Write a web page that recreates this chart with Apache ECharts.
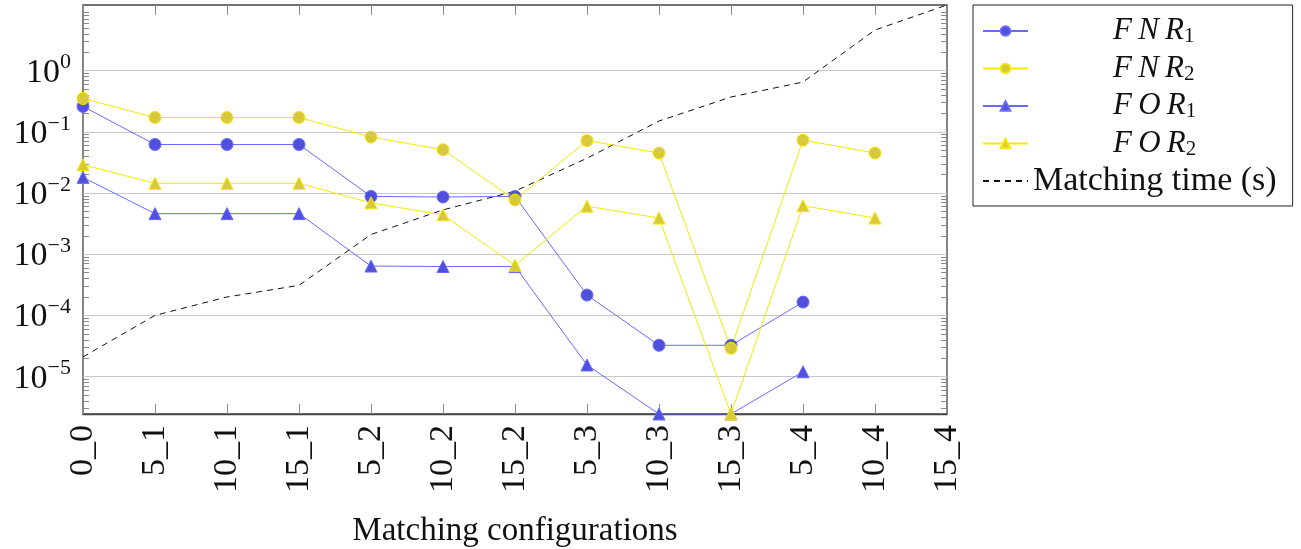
<!DOCTYPE html>
<html>
<head>
<meta charset="utf-8">
<script src="https://cdn.jsdelivr.net/npm/echarts@6/dist/echarts.min.js"></script>
<style>html,body{margin:0;padding:0;background:#fff;}#c{width:1301px;height:549px;}</style>
</head>
<body>
<div id="c"></div>
<script>
const categories = ['0_0','5_1','10_1','15_1','5_2','10_2','15_2','5_3','10_3','15_3','5_4','10_4','15_4'];
const fnr1 = [0.26, 0.062, 0.062, 0.062, 0.0088, 0.0086, 0.0088, 2.15e-4, 3.25e-5, 3.25e-5, 1.65e-4, null, null];
const fnr2 = [0.35, 0.171, 0.171, 0.171, 0.082, 0.051, 0.0077, 0.072, 0.045, 2.9e-5, 0.073, 0.045, null];
const for1 = [0.018, 0.0046, 0.0046, 0.0046, 6.4e-4, 6.3e-4, 6.3e-4, 1.55e-5, 2.45e-6, 2.45e-6, 1.2e-5, null, null];
const for2 = [0.029, 0.0144, 0.0144, 0.0144, 0.0069, 0.0044, 6.6e-4, 0.0061, 0.0039, 2.45e-6, 0.0062, 0.0039, null];
const matchTime = [2.1e-5, 1e-4, 2e-4, 3.1e-4, 2.1e-3, 5.3e-3, 1.07e-2, 3.7e-2, 0.15, 0.37, 0.65, 4.6, 11.8];
const majorTicks = [1e-5, 1e-4, 1e-3, 1e-2, 1e-1, 1e0];
const majorExp = ['\u22125', '\u22124', '\u22123', '\u22122', '\u22121', '0'];
const minorTicks = [3e-6,4e-6,5e-6,6e-6,7e-6,8e-6,9e-6,
  2e-5,3e-5,4e-5,5e-5,6e-5,7e-5,8e-5,9e-5,
  2e-4,3e-4,4e-4,5e-4,6e-4,7e-4,8e-4,9e-4,
  2e-3,3e-3,4e-3,5e-3,6e-3,7e-3,8e-3,9e-3,
  2e-2,3e-2,4e-2,5e-2,6e-2,7e-2,8e-2,9e-2,
  2e-1,3e-1,4e-1,5e-1,6e-1,7e-1,8e-1,9e-1,
  2,3,4,5,6,7,8,9];

const allVals = [].concat(fnr1, fnr2, for1, for2, matchTime).filter(v => v != null);
const yMin = Math.min.apply(null, allVals);
const yMax = Math.max.apply(null, allVals);

const SERIF = '"Liberation Serif", "DejaVu Serif", serif';
const BLUE_LINE = '#6a6aff', BLUE_FILL = '#5050dc';
const YEL_LINE = '#f6e800', YEL_FILL = '#d8c83c';

const chart = echarts.init(document.getElementById('c'), null, {renderer: 'canvas'});

function minorAxis(pos) {
  return {
    type: 'log', logBase: 10, min: yMin, max: yMax, position: pos,
    axisLine: {show: false}, axisLabel: {show: false}, splitLine: {show: false},
    axisTick: {show: true, inside: true, length: 6, customValues: minorTicks, lineStyle: {color: '#888', width: 1}}
  };
}

const legendLabels = {
  'FNR1': ['F\u2009N\u2009R', '1'], 'FNR2': ['F\u2009N\u2009R', '2'],
  'FOR1': ['F\u2009O\u2009R', '1'], 'FOR2': ['F\u2009O\u2009R', '2']
};

function lineSeries(name, data, lineColor, fillColor, symbol, size) {
  return {
    name: name, type: 'line', data: data, xAxisIndex: 0, yAxisIndex: 0,
    symbol: symbol, symbolSize: size, showSymbol: true,
    lineStyle: {color: lineColor, width: 1},
    itemStyle: {color: fillColor, borderColor: lineColor, borderWidth: 1},
    connectNulls: false, animation: false, z: 3
  };
}

const option = {
  animation: false,
  backgroundColor: '#fff',
  grid: {left: 83, right: 354, top: 5, bottom: 135, show: true, borderColor: '#444', borderWidth: 1.3,
         containLabel: false, outerBoundsMode: 'none'},
  xAxis: [{
    type: 'category', data: categories, boundaryGap: false, position: 'bottom',
    axisLine: {show: true, lineStyle: {color: '#444', width: 1.3}},
    axisTick: {show: true, inside: true, length: 10, lineStyle: {color: '#888'}},
    axisLabel: {rotate: 90, margin: 11, fontFamily: SERIF, fontSize: 34, color: '#111', interval: 0},
    splitLine: {show: false},
    name: 'Matching configurations', nameLocation: 'middle', nameGap: 101,
    nameTextStyle: {fontFamily: SERIF, fontSize: 33, color: '#111'}
  }, {
    type: 'category', data: categories, boundaryGap: false, position: 'top',
    axisLine: {show: false}, axisLabel: {show: false},
    axisTick: {show: true, inside: true, length: 10, lineStyle: {color: '#888'}}
  }],
  yAxis: [{
    type: 'log', logBase: 10, min: yMin, max: yMax, position: 'left',
    axisLine: {show: false},
    axisTick: {show: false, customValues: majorTicks},
    splitLine: {show: true, lineStyle: {color: '#c8c8c8', width: 1}},
    axisLabel: {
      customValues: majorTicks, margin: 12, color: '#111',
      formatter: function (v) {
        const i = majorTicks.findIndex(t => Math.abs(Math.log10(t) - Math.log10(v)) < 1e-6);
        return '{b|10}{e|' + (i >= 0 ? majorExp[i] : '') + '}';
      },
      rich: {
        b: {fontFamily: SERIF, fontSize: 34, color: '#111', verticalAlign: 'bottom', lineHeight: 38, padding: [4, 0, 0, 0]},
        e: {fontFamily: SERIF, fontSize: 22, color: '#111', verticalAlign: 'top', lineHeight: 38, padding: [0, 0, 14, 0]}
      }
    }
  }, minorAxis('left'), minorAxis('right')],
  legend: {
    show: true, orient: 'vertical', left: 973, top: 5,
    padding: [9, 16, 8, 9], itemGap: 4.5, itemWidth: 45, itemHeight: 12,
    borderColor: '#222', borderWidth: 1, backgroundColor: '#fff',
    data: ['FNR1', 'FNR2', 'FOR1', 'FOR2', {name: 'Matching time (s)', itemStyle: {opacity: 0}}],
    formatter: function (name) {
      if (legendLabels[name]) {
        const p = legendLabels[name];
        return '{pad|}{i|' + p[0] + '}{s|' + p[1] + '}';
      }
      return '{t|' + name + '}';
    },
    textStyle: {
      rich: {
        pad: {width: 80, height: 32},
        i: {fontFamily: SERIF, fontStyle: 'italic', fontSize: 31, color: '#111', lineHeight: 32},
        s: {fontFamily: SERIF, fontSize: 21, color: '#111', lineHeight: 32, verticalAlign: 'bottom', padding: [12, 0, 0, 0]},
        t: {fontFamily: SERIF, fontSize: 34, color: '#111', lineHeight: 32}
      }
    }
  },
  series: [
    lineSeries('FNR1', fnr1, BLUE_LINE, BLUE_FILL, 'circle', 12),
    lineSeries('FNR2', fnr2, YEL_LINE, YEL_FILL, 'circle', 12),
    lineSeries('FOR1', for1, BLUE_LINE, BLUE_FILL, 'triangle', 12),
    lineSeries('FOR2', for2, YEL_LINE, YEL_FILL, 'triangle', 12),
    {
      name: 'Matching time (s)', type: 'line', data: matchTime, symbol: 'none', showSymbol: false,
      lineStyle: {color: '#111', width: 1, type: [6, 5]}, itemStyle: {color: '#111'}, z: 2
    }
  ]
};
chart.setOption(option);
</script>
</body>
</html>
